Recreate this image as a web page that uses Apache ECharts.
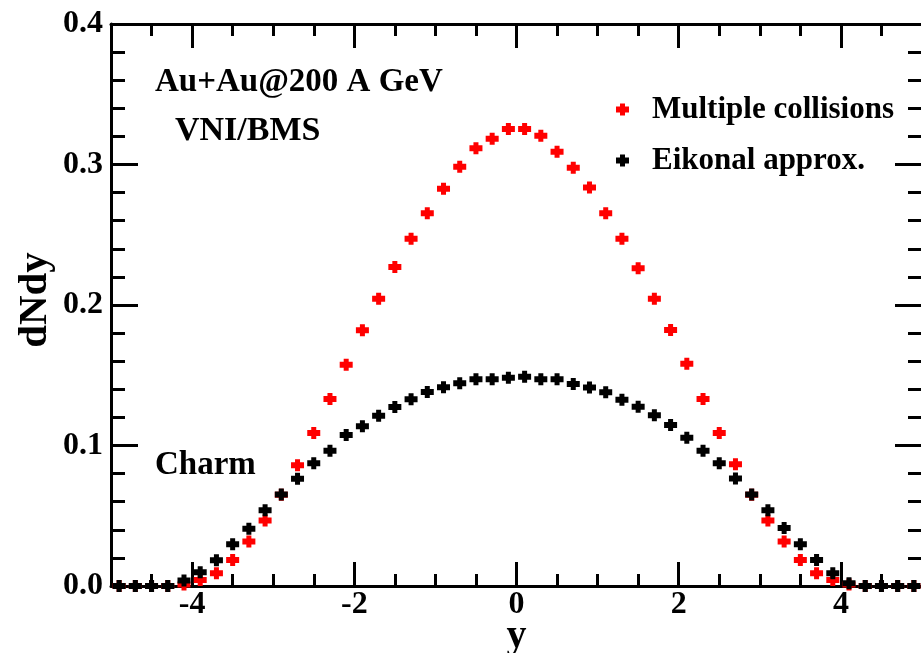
<!DOCTYPE html>
<html>
<head>
<meta charset="utf-8">
<script src="https://cdn.jsdelivr.net/npm/echarts@6/dist/echarts.min.js"></script>
<style>
  html, body { margin: 0; padding: 0; background: #ffffff; }
  #chart { width: 921px; height: 653px; }
</style>
</head>
<body>
<div id="chart"></div>
<script>
// Rapidity bins (centre of each 0.2-wide bin)
const rapidity = [-4.9, -4.7, -4.5, -4.3, -4.1, -3.9, -3.7, -3.5, -3.3, -3.1,
                  -2.9, -2.7, -2.5, -2.3, -2.1, -1.9, -1.7, -1.5, -1.3, -1.1,
                  -0.9, -0.7, -0.5, -0.3, -0.1, 0.1, 0.3, 0.5, 0.7, 0.9,
                  1.1, 1.3, 1.5, 1.7, 1.9, 2.1, 2.3, 2.5, 2.7, 2.9,
                  3.1, 3.3, 3.5, 3.7, 3.9, 4.1, 4.3, 4.5, 4.7, 4.9];

// dN/dy for charm, multiple-collision treatment
const multipleCollisions = [0, 0, 0, 0, 0.001, 0.0043, 0.009, 0.0185, 0.0316, 0.0467,
                            0.065, 0.0859, 0.1089, 0.1331, 0.1575, 0.182, 0.2045, 0.227, 0.2472, 0.2653,
                            0.2828, 0.2984, 0.3115, 0.3184, 0.3253, 0.3253, 0.3205, 0.3091, 0.2977, 0.2837,
                            0.2653, 0.2472, 0.2261, 0.2045, 0.1822, 0.1582, 0.1331, 0.1089, 0.0866, 0.065,
                            0.0467, 0.0316, 0.0185, 0.009, 0.0043, 0.001, 0, 0, 0, 0];

// dN/dy for charm, eikonal approximation
const eikonalApprox = [0, 0, 0, 0, 0.004, 0.0097, 0.0183, 0.0297, 0.0408, 0.0539,
                       0.0652, 0.0764, 0.0873, 0.0963, 0.1075, 0.1137, 0.1212, 0.1274, 0.1329, 0.1381,
                       0.1414, 0.1443, 0.1471, 0.1471, 0.1483, 0.149, 0.1471, 0.1471, 0.1438, 0.1412,
                       0.1379, 0.1326, 0.1276, 0.1215, 0.1146, 0.1056, 0.0963, 0.0873, 0.0766, 0.0652,
                       0.0539, 0.0413, 0.0297, 0.0185, 0.009, 0.002, 0, 0, 0, 0];

// Axis ticks
const xMajorTicks = [-4, -2, 0, 2, 4];
const xMinorTicks = [-4.5, -3.5, -3, -2.5, -1.5, -1, -0.5, 0.5, 1, 1.5, 2.5, 3, 3.5, 4.5];
const yTickLabels = ['0.0', '0.1', '0.2', '0.3', '0.4'];

const seriesNames = ['Multiple collisions', 'Eikonal approx.'];

const SERIF = "'Liberation Serif', 'Times New Roman', serif";
const PLUS = 'path://M0,3 H4 V0 H9 V3 H13 V9 H9 V12 H4 V9 H0 Z';

const zip = (xs, ys) => xs.map((x, i) => [x, ys[i]]);

function xAxisDef(pos, ticks, len, showLabel, showLine) {
  return {
    type: 'value', position: pos, min: -5, max: 5,
    axisLine: { show: showLine, onZero: false, lineStyle: { color: '#000', width: 3 } },
    axisTick: { show: true, inside: true, length: len, customValues: ticks,
                lineStyle: { color: '#000', width: 3 } },
    axisLabel: { show: showLabel, customValues: xMajorTicks, margin: 3,
                 color: '#000', fontFamily: SERIF, fontWeight: 'bold', fontSize: 32 },
    splitLine: { show: false }
  };
}

function yAxisDef(pos, showLabel) {
  return {
    type: 'value', position: pos, min: 0, max: 0.4, interval: 0.1,
    axisLine: { show: true, onZero: false, lineStyle: { color: '#000', width: 3 } },
    axisTick: { show: true, inside: true, length: 27, lineStyle: { color: '#000', width: 3 } },
    minorTick: { show: true, splitNumber: 5, length: 14, lineStyle: { color: '#000', width: 3 } },
    axisLabel: { show: showLabel, margin: 8, color: '#000', fontFamily: SERIF,
                 fontWeight: 'bold', fontSize: 32,
                 formatter: v => yTickLabels[Math.round(v * 10)] },
    splitLine: { show: false },
    minorSplitLine: { show: false }
  };
}

const xAxes = [
  xAxisDef('bottom', xMajorTicks, 24, true, true),
  xAxisDef('bottom', xMinorTicks, 12, false, false),
  xAxisDef('top', xMajorTicks, 24, false, true),
  xAxisDef('top', xMinorTicks, 12, false, false)
];
xAxes[0].name = 'y';
xAxes[0].nameLocation = 'middle';
xAxes[0].nameGap = 31;
xAxes[0].nameMoveOverlap = false;
xAxes[0].nameTextStyle = { color: '#000', fontFamily: SERIF, fontWeight: 'bold', fontSize: 40 };

const yAxes = [yAxisDef('left', true), yAxisDef('right', false)];
yAxes[0].name = 'dNdy';
yAxes[0].nameLocation = 'middle';
yAxes[0].nameGap = 55;
yAxes[0].nameMoveOverlap = false;
yAxes[0].nameTextStyle = { color: '#000', fontFamily: SERIF, fontWeight: 'bold', fontSize: 41,
                           padding: [0, 0, 0, 10] };

const chart = echarts.init(document.getElementById('chart'), null, { renderer: 'canvas' });
chart.setOption({
  backgroundColor: '#ffffff',
  animation: false,
  grid: { left: 111, right: -1, top: 24, bottom: 67, containLabel: false, outerBoundsMode: 'none' },
  xAxis: xAxes,
  yAxis: yAxes,
  legend: {
    orient: 'vertical', left: 611, top: 89, itemGap: 20,
    itemWidth: 13, itemHeight: 12,
    data: [
      { name: seriesNames[0], icon: PLUS },
      { name: seriesNames[1], icon: PLUS }
    ],
    itemStyle: { opacity: 1 },
    textStyle: { color: '#000', fontFamily: SERIF, fontWeight: 'bold', fontSize: 31,
                 padding: [0, 0, 0, 18] }
  },
  graphic: [
    { type: 'text', left: 155, top: 66,
      style: { text: 'Au+Au@200 A GeV', fill: '#000', font: 'bold 33px ' + SERIF } },
    { type: 'text', left: 175, top: 114,
      style: { text: 'VNI/BMS', fill: '#000', font: 'bold 34px ' + SERIF } },
    { type: 'text', left: 155, top: 449,
      style: { text: 'Charm', fill: '#000', font: 'bold 33px ' + SERIF } }
  ],
  series: [
    { name: seriesNames[0], type: 'scatter', xAxisIndex: 0, yAxisIndex: 0,
      symbol: PLUS, symbolSize: [13, 12], clip: false,
      itemStyle: { color: '#ff0000', opacity: 1 },
      data: zip(rapidity, multipleCollisions) },
    { name: seriesNames[1], type: 'scatter', xAxisIndex: 0, yAxisIndex: 0,
      symbol: PLUS, symbolSize: [13, 12], clip: false,
      itemStyle: { color: '#000000', opacity: 1 },
      data: zip(rapidity, eikonalApprox) }
  ]
});
</script>
</body>
</html>
